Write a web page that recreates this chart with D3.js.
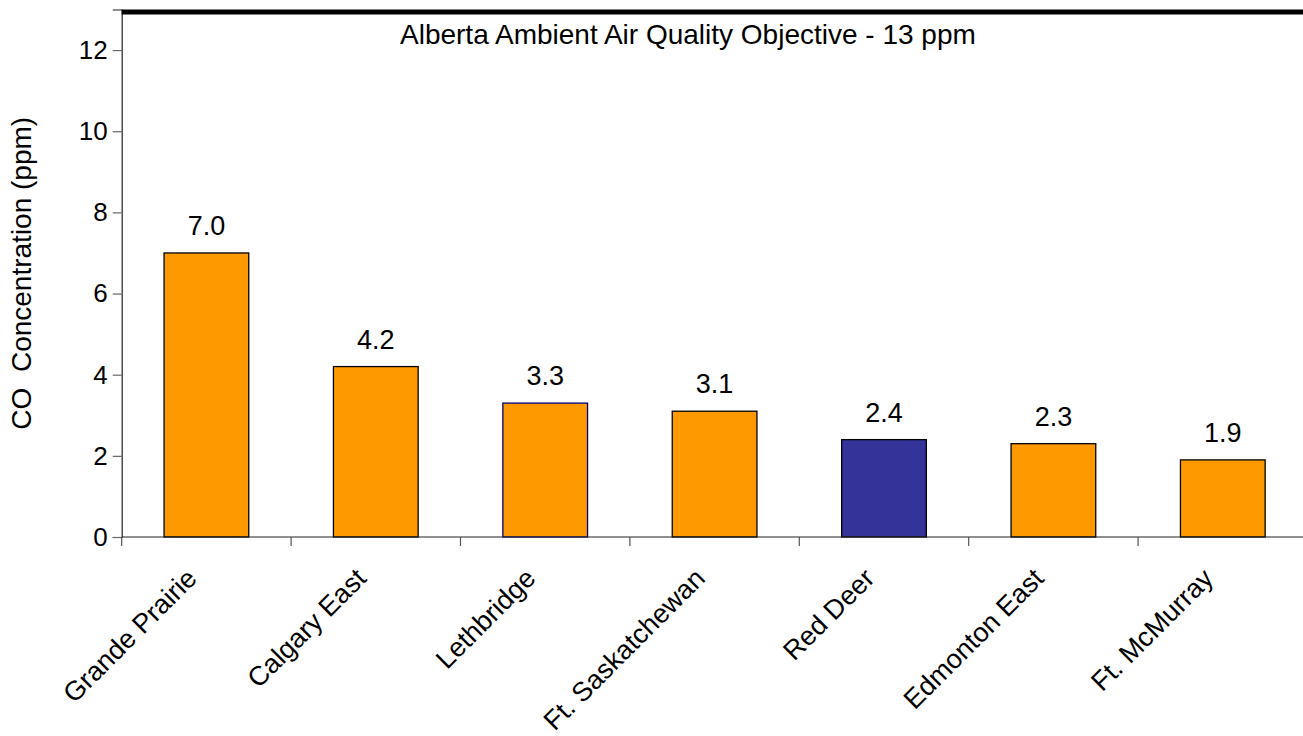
<!DOCTYPE html>
<html>
<head>
<meta charset="utf-8">
<script src="https://cdn.jsdelivr.net/npm/d3@7"></script>
<style>
  html, body { margin: 0; padding: 0; background: #fff; overflow: hidden; }
  svg { display: block; font-family: Arial, "Liberation Sans", sans-serif; }
</style>
</head>
<body>
<svg id="chart" width="1303" height="736"></svg>
<script>
const categories = ["Grande Prairie", "Calgary East", "Lethbridge", "Ft. Saskatchewan", "Red Deer", "Edmonton East", "Ft. McMurray"];
const values = [7.0, 4.2, 3.3, 3.1, 2.4, 2.3, 1.9];
const highlighted = ["Red Deer"];
const yTicks = [0, 2, 4, 6, 8, 10, 12];
const objectiveValue = 13;
const objectiveLabel = "Alberta Ambient Air Quality Objective - 13 ppm";
const yAxisTitle = "CO  Concentration (ppm)";

(function () {
const svg = d3.select("#chart");
const mLeft = 121.7, mRight = 1307.5, mTop = 9.5, mBottom = 537;

const x = d3.scaleBand().domain(categories).range([mLeft, mRight]).paddingInner(0.5).paddingOuter(0.25);
const y = d3.scaleLinear().domain([0, 13]).range([mBottom, mTop]);

// bars
const data = categories.map((c, i) => ({ c, v: values[i] }));
svg.append("g").selectAll("rect").data(data).join("rect")
  .attr("x", d => x(d.c))
  .attr("y", d => y(d.v))
  .attr("width", x.bandwidth())
  .attr("height", d => y(0) - y(d.v))
  .attr("fill", d => highlighted.includes(d.c) ? "#333399" : "#FF9900")
  .attr("stroke", d => d.c === "Lethbridge" ? "#000080" : "#000")
  .attr("stroke-width", 1.3);

// value labels
svg.append("g").selectAll("text").data(data).join("text")
  .attr("x", d => x(d.c) + x.bandwidth() / 2)
  .attr("y", d => y(d.v) - 18)
  .attr("text-anchor", "middle")
  .attr("font-size", 27)
  .attr("fill", "#000")
  .text(d => d.v.toFixed(1));

// y axis
const yAxis = d3.axisLeft(y).tickValues(yTicks).tickSize(9).tickPadding(5).tickFormat(d3.format("d"));
const gy = svg.append("g").attr("transform", `translate(${mLeft},0)`).call(yAxis);
gy.select(".domain").attr("stroke", "#222").attr("stroke-width", 1.2);
gy.selectAll(".tick line").attr("stroke", "#666").attr("stroke-width", 1.2);
gy.selectAll(".tick text").attr("font-size", 26).attr("font-family", "Arial, 'Liberation Sans', sans-serif").attr("fill", "#000");

// x axis (ticks at band boundaries)
const step = x.step();
const boundaries = d3.range(categories.length + 1).map(i => mLeft + i * step);
svg.append("line").attr("x1", mLeft).attr("x2", 1303).attr("y1", mBottom).attr("y2", mBottom)
  .attr("stroke", "#222").attr("stroke-width", 1.2);
svg.append("g").selectAll("line").data(boundaries).join("line")
  .attr("x1", d => d).attr("x2", d => d).attr("y1", mBottom).attr("y2", mBottom + 9)
  .attr("stroke", "#555").attr("stroke-width", 1.2);

// category labels
svg.append("g").selectAll("text").data(categories).join("text")
  .attr("transform", d => `translate(${x(d) + x.bandwidth() / 2 - 8},${mBottom + 43}) rotate(-45)`)
  .attr("text-anchor", "end")
  .attr("font-size", 27)
  .attr("fill", "#000")
  .text(d => d);

// objective line
svg.append("line").attr("x1", mLeft).attr("x2", 1303)
  .attr("y1", y(objectiveValue) + 2.5).attr("y2", y(objectiveValue) + 2.5)
  .attr("stroke", "#000").attr("stroke-width", 5);
svg.append("text").attr("x", 400).attr("y", 44).attr("font-size", 28).attr("fill", "#000").text(objectiveLabel);

// y axis title
svg.append("text")
  .attr("transform", `translate(${mLeft - 91},${(mTop + mBottom) / 2}) rotate(-90)`)
  .attr("text-anchor", "middle")
  .attr("font-size", 28)
  .attr("fill", "#000")
  .style("white-space", "pre")
  .text(yAxisTitle);
})();
</script>
</body>
</html>
